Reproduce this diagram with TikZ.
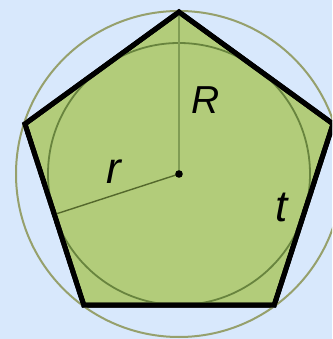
\documentclass[tikz,border=0pt]{standalone}
\usepackage{fontspec}
\setmainfont{Liberation Sans}
\usetikzlibrary{calc}
\definecolor{bgblue}{RGB}{216,232,252}
\definecolor{pentfill}{RGB}{178,204,122}
\definecolor{circum}{RGB}{150,160,108}
\definecolor{incirc}{RGB}{104,132,62}
\definecolor{radR}{RGB}{128,156,84}
\definecolor{radr}{RGB}{84,104,44}
\tikzset{
  lbl/.style={font=\fontsize{44}{46}\selectfont\itshape, inner sep=0pt, anchor=base},
  lblR/.style={lbl, font=\fontsize{39}{41}\selectfont\itshape},
  pent/.style={draw=black, line width=5pt, fill=pentfill, line join=miter},
  circline/.style={draw=circum, line width=2pt},
  inline/.style={draw=incirc, line width=1.8pt},
}
\begin{document}
\begin{tikzpicture}[x=1pt,y=1pt]
\fill[bgblue] (0,0) rectangle (332,339);
\useasboundingbox (0,0) rectangle (332,339);
\begin{scope}
\clip (0,0) rectangle (332,339);
\coordinate (O) at (179,165);
\coordinate (A) at ($(O)+(90:162)$);
\coordinate (B) at ($(O)+(162:162)$);
\coordinate (C) at ($(O)+(234:162)$);
\coordinate (D) at ($(O)+(306:162)$);
\coordinate (E) at ($(O)+(18:162)$);
\coordinate (M) at ($(O)+(198:131)$);
\path[pent] (A) -- (B) -- (C) -- (D) -- (E) -- cycle;
\draw[inline] (O) circle[radius=131];
\draw[circline] (O) circle[radius=163];
\draw[radR, line width=1.6pt] (O) -- (A);
\draw[radr, line width=1.4pt] (O) -- (M);
\draw[black, line width=5pt, line join=miter] (A) -- (B) -- (C) -- (D) -- (E) -- cycle;
\fill[black] (O) circle[radius=3.8];
\node[lblR] (R) at (206,225) {R};
\node[lbl] (r) at (114,155) {r};
\node[lbl] (t) at (282,117) {t};
\end{scope}
\end{tikzpicture}
\end{document}
